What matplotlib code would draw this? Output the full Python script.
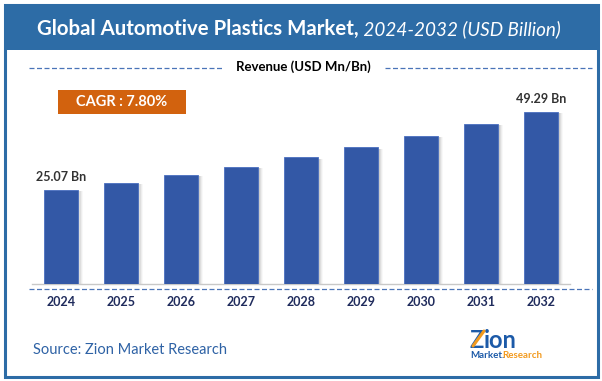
import matplotlib
matplotlib.use("Agg")
import matplotlib.pyplot as plt
from matplotlib.patches import Rectangle
import numpy as np

years = ["2024", "2025", "2026", "2027", "2028", "2029", "2030", "2031", "2032"]
revenue = [25.07, 27.34, 29.73, 32.30, 35.22, 38.33, 41.84, 45.56, 49.29]
label_first = "25.07 Bn"
label_last = "49.29 Bn"
cagr_text = "CAGR : 7.80%"
title_main = "Global Automotive Plastics Market,"
title_sub = " 2024-2032 (USD Billion)"
subtitle = "Revenue (USD Mn/Bn)"
source = "Source: Zion Market Research"

W, H = 602, 381
plt.rcParams['font.family'] = ['Lato', 'DejaVu Sans']
fig = plt.figure(figsize=(W / 100, H / 100), dpi=100)
fig.patch.set_facecolor("white")

def fx(px):
    return px / W

def fy(py):
    return 1 - py / H

BLUE_FRAME = "#2D6CA6"
BAR_COLOR = "#3358A6"
NAVY = "#1F2B5C"

deco = fig.add_axes([0, 0, 1, 1], zorder=0)
deco.set_xlim(0, W)
deco.set_ylim(H, 0)
deco.axis("off")

# frame and title band
deco.add_patch(Rectangle((5, 5), 593, 372, fill=False, edgecolor=BLUE_FRAME, lw=2.2))
deco.add_patch(Rectangle((5, 5), 593, 45, facecolor=BLUE_FRAME, edgecolor=BLUE_FRAME, lw=0))

t1 = deco.text(37, 29, title_main, color="white", fontsize=14.7, fontweight="bold",
               va="center", ha="left")
fig.canvas.draw()
bb = t1.get_window_extent()
deco.text(bb.x1, fy(29) * H, title_sub, color="white", fontsize=13.6, fontstyle="italic",
          va="center", ha="left", transform=None)

deco.text(303, 67, subtitle, color="black", fontsize=9.5, fontweight="bold", ha="center", va="center")
deco.plot([29, 223], [68, 68], ls=(0, (4, 2)), color="#4A74B8", lw=0.9)
deco.plot([385, 592], [68, 68], ls=(0, (4, 2)), color="#4A74B8", lw=0.9)

deco.add_patch(Rectangle((58, 90), 128, 24, facecolor="#D2620E", edgecolor="none"))
deco.text(122, 102.5, cagr_text, color="white", fontsize=10.5, fontweight="bold", ha="center", va="center")

deco.plot([29, 592], [289, 289], ls=(0, (4, 2)), color="#4A74B8", lw=0.9)

deco.text(33, 350, source, color="#2E62A5", fontsize=10.5, ha="left", va="center")

# logo
deco.text(470, 340, "Z", color="#1C5AA8", fontsize=17, fontweight="bold", ha="left", va="center", zorder=2)
deco.plot([473, 484], [346, 331], color="#F29A1E", lw=2.2, zorder=5, solid_capstyle="round")
deco.text(484, 340, "ion", color="#1C5AA8", fontsize=17, fontweight="bold", ha="left", va="center", zorder=2)
deco.text(470, 355, "Market.", color="#1C5AA8", fontsize=7, fontweight="bold", ha="left", va="center")
deco.text(502, 355, "Research", color="#F29A1E", fontsize=7, fontweight="bold", ha="left", va="center")

# main bar axes
BASE = -4.12
px_per_unit = 3.2205
ax_top_px, ax_bot_px = 100, 284
ax_left_px, ax_right_px = 32, 570
top_val = BASE + (ax_bot_px - ax_top_px) / px_per_unit
ax = fig.add_axes([fx(ax_left_px), fy(ax_bot_px), fx(ax_right_px - ax_left_px),
                   (ax_bot_px - ax_top_px) / H], zorder=2)
ax.patch.set_alpha(0)
x = np.arange(len(years))
vals = np.array(revenue)
bw = 0.567
for k, a in enumerate([0.18, 0.13, 0.09, 0.05]):
    off = (1.5 + k * 1.2) / 60
    ax.bar(x + off, vals - BASE - 0.4, bottom=BASE, width=bw, color="gray", alpha=a,
           edgecolor="none", zorder=1)
ax.bar(x, vals - BASE, bottom=BASE, width=bw, color=BAR_COLOR, edgecolor="#4A6FBF",
       lw=0.6, zorder=3)
ax.set_xlim(-0.483, 8.483)
ax.set_ylim(BASE, top_val)
for s in ["top", "left", "right"]:
    ax.spines[s].set_visible(False)
ax.spines["bottom"].set_color("#C8C8C8")
ax.spines["bottom"].set_linewidth(1.0)
ax.set_yticks([])
ax.set_xticks(x)
ax.set_xticklabels(years, color=NAVY, fontsize=9, fontweight="bold")
ax.tick_params(axis="x", length=0, pad=9)

ax.annotate(label_first, (x[0], vals[0]), xytext=(0, 9.5), textcoords="offset points",
            ha="center", va="center", fontsize=9, fontweight="bold", color="#333333")
ax.annotate(label_last, (x[-1], vals[-1]), xytext=(0, 9), textcoords="offset points",
            ha="center", va="center", fontsize=9, fontweight="bold", color="#333333")

fig.savefig("out.png", dpi=100, facecolor="white")
